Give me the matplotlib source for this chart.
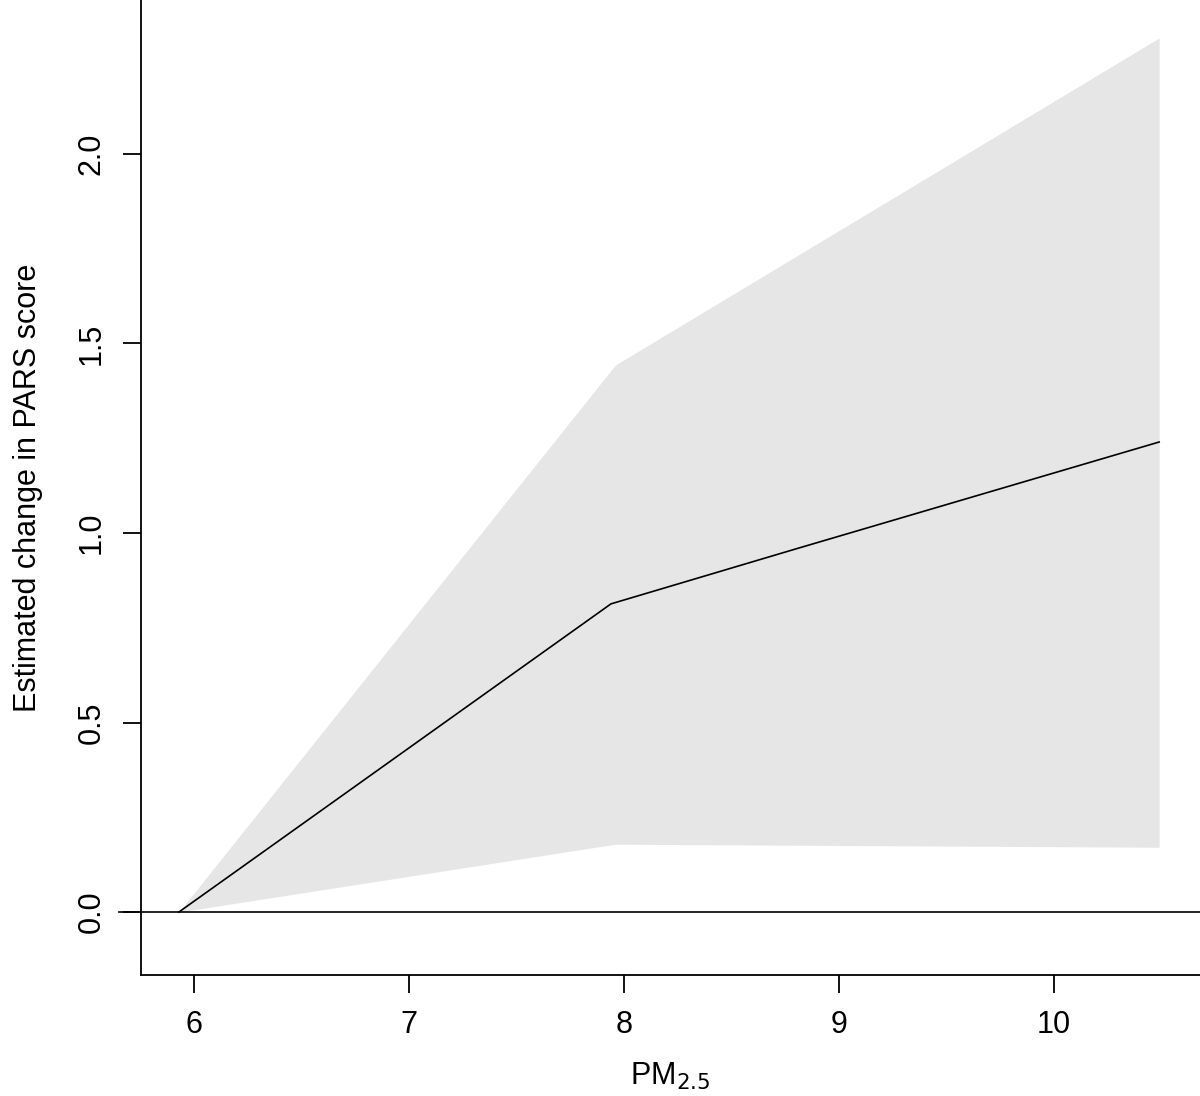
import matplotlib.pyplot as plt
import numpy as np

plt.rcParams['font.family'] = ['Liberation Sans', 'DejaVu Sans']

# estimated effect curve
pm25 = [5.93, 7.94, 8.80, 10.49]
est = [0.0, 0.813, 0.958, 1.24]

# confidence band
band_x = [5.93, 7.96, 10.49]
band_lo = [0.0, 0.179, 0.171]
band_hi = [0.0, 1.443, 2.306]

xticks = [6, 7, 8, 9, 10]
yticks = [0.0, 0.5, 1.0, 1.5, 2.0]

fig = plt.figure(figsize=(12, 10.96), dpi=100)
ax = fig.add_axes([141/1200, 1 - 975/1096, 1059/1200, 975/1096])

ax.fill_between(band_x, band_lo, band_hi, color='#e6e6e6', lw=0)
ax.plot(pm25, est, color='black', lw=1.2)
ax.plot([5.651, 10.68], [0, 0], color='black', lw=1.2, clip_on=False)

ax.set_xlim(5.754, 10.68)
ax.set_ylim(-0.166, 2.406)

for s in ['top', 'right']:
    ax.spines[s].set_visible(False)
for s in ['left', 'bottom']:
    ax.spines[s].set_linewidth(1.3)

ax.set_xticks(xticks)
ax.set_xticklabels([str(v) for v in xticks])
ax.set_yticks(yticks)
ax.set_yticklabels(['%.1f' % v for v in yticks], rotation=90, va='center')
ax.tick_params(axis='both', labelsize=22, length=13, width=1.3, pad=12)

ax.set_xlabel('PM$_{2.5}$', fontsize=22)
ax.xaxis.set_label_coords(0.5, -(1061 - 975) / 975)
ax.set_ylabel('Estimated change in PARS score', fontsize=22, labelpad=24)

fig.savefig('out.png', dpi=100)
